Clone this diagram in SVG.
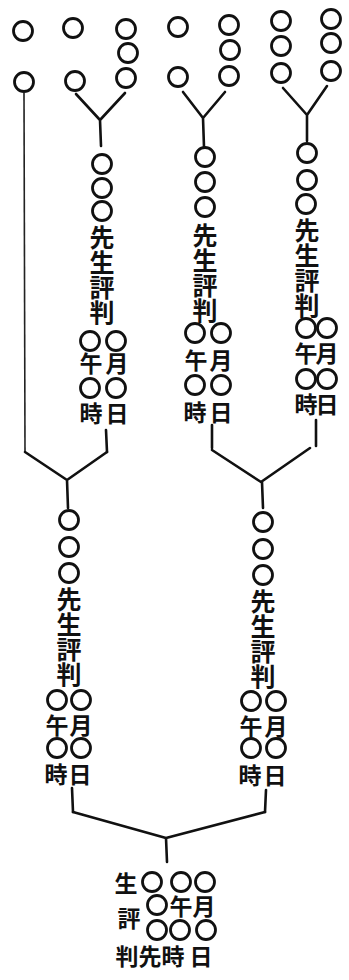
<svg xmlns="http://www.w3.org/2000/svg" width="349" height="980" viewBox="0 0 349 980">
<style>
.c{fill:none;stroke:#111;stroke-width:2.8}
.t{font-family:"Noto Sans CJK JP","Noto Sans CJK TC",sans-serif;font-weight:700;font-size:23px;text-anchor:middle;dominant-baseline:central;fill:#111}
.v{font-family:"Noto Sans CJK JP","Noto Sans CJK TC",sans-serif;font-weight:700;font-size:25px;writing-mode:vertical-rl;text-anchor:start;fill:#111}
.f{font-size:23px}
.ln{fill:none;stroke:#111;stroke-width:2.6;stroke-linecap:round;stroke-linejoin:round}
.th{fill:none;stroke:#222;stroke-width:1.6}
</style>
<rect width="349" height="980" fill="#fff"/>
<g id="connectors">
  <path class="th" d="M24 93 L25 452"/>
  <path class="ln" d="M76 94 L100 120 L125 93 M100 120 L101 146"/>
  <path class="ln" d="M183 92 L203 118 L225 92 M203 118 L204 147"/>
  <path class="ln" d="M283 88 L307 115 L327 86 M307 115 L307 141"/>
  <path class="ln" d="M106 430 L107 452"/>
  <path class="ln" d="M212 425 L212 448"/>
  <path class="ln" d="M316 420 L316 446"/>
  <path class="ln" d="M25 452 L67 480 L107 452 M67 480 L68 508"/>
  <path class="ln" d="M212 450 L261 482 L310 448 M262 482 L263 508"/>
  <path class="ln" d="M72 788 L73 812"/>
  <path class="ln" d="M266 790 L265 812"/>
  <path class="ln" d="M73 812 L166 838 L265 812 M166 838 L167 862"/>
</g>
<g id="leaf1a"><circle class="c" cx="23" cy="31" r="9.5"/></g>
<g id="leaf1b"><circle class="c" cx="24" cy="82" r="9.5"/></g>
<g id="leaf2a"><circle class="c" cx="73" cy="28" r="9.5"/></g>
<g id="leaf2b"><circle class="c" cx="75" cy="81" r="9.5"/></g>
<g id="leaf3"><circle class="c" cx="126" cy="29" r="9.5"/><circle class="c" cx="128" cy="53" r="9.5"/><circle class="c" cx="126" cy="78" r="9.5"/></g>
<g id="leaf4a"><circle class="c" cx="178" cy="27" r="9.5"/></g>
<g id="leaf4b"><circle class="c" cx="178" cy="77" r="9.5"/></g>
<g id="leaf5"><circle class="c" cx="229" cy="25" r="9.5"/><circle class="c" cx="230" cy="50" r="9.5"/><circle class="c" cx="229" cy="76" r="9.5"/></g>
<g id="leaf6"><circle class="c" cx="281" cy="21" r="9.5"/><circle class="c" cx="281" cy="46" r="9.5"/><circle class="c" cx="281" cy="73" r="9.5"/></g>
<g id="leaf7"><circle class="c" cx="331" cy="19" r="9.5"/><circle class="c" cx="331" cy="43" r="9.5"/><circle class="c" cx="331" cy="71" r="9.5"/></g>

<g id="colL">
  <circle class="c" cx="102" cy="164" r="9.5"/><circle class="c" cx="102" cy="188" r="9.5"/><circle class="c" cx="102" cy="211" r="9.5"/>
  <text class="v" x="102" y="225">先生評判</text>
  <circle class="c" cx="90" cy="341" r="9.5"/><circle class="c" cx="116" cy="341" r="9.5"/>
  <text class="t" x="91" y="362">午</text><text class="t" x="117" y="362">月</text>
  <circle class="c" cx="90" cy="388" r="9.5"/><circle class="c" cx="116" cy="388" r="9.5"/>
  <text class="t" x="91" y="412">時</text><text class="t" x="117" y="412">日</text>
</g>
<g id="colM">
  <circle class="c" cx="205" cy="157" r="9.5"/><circle class="c" cx="205" cy="182" r="9.5"/><circle class="c" cx="205" cy="207" r="9.5"/>
  <text class="v" x="205" y="223">先生評判</text>
  <circle class="c" cx="195" cy="333" r="9.5"/><circle class="c" cx="221" cy="333" r="9.5"/>
  <text class="t" x="196" y="359">午</text><text class="t" x="221" y="359">月</text>
  <circle class="c" cx="195" cy="385" r="9.5"/><circle class="c" cx="221" cy="385" r="9.5"/>
  <text class="t" x="195" y="411">時</text><text class="t" x="221" y="411">日</text>
</g>
<g id="colR">
  <circle class="c" cx="307" cy="153" r="9.5"/><circle class="c" cx="307" cy="180" r="9.5"/><circle class="c" cx="306" cy="204" r="9.5"/>
  <text class="v" x="307" y="218">先生評判</text>
  <circle class="c" cx="306" cy="328" r="9.5"/><circle class="c" cx="327" cy="328" r="9.5"/>
  <text class="t" x="306" y="352">午</text><text class="t" x="327" y="352">月</text>
  <circle class="c" cx="306" cy="379" r="9.5"/><circle class="c" cx="327" cy="379" r="9.5"/>
  <text class="t" x="306" y="403">時</text><text class="t" x="327" y="403">日</text>
</g>
<g id="colLL">
  <circle class="c" cx="69" cy="520" r="9.5"/><circle class="c" cx="69" cy="547" r="9.5"/><circle class="c" cx="69" cy="573" r="9.5"/>
  <text class="v" x="69" y="587">先生評判</text>
  <circle class="c" cx="57" cy="700" r="9.5"/><circle class="c" cx="81" cy="700" r="9.5"/>
  <text class="t" x="57" y="724">午</text><text class="t" x="81" y="724">月</text>
  <circle class="c" cx="57" cy="748" r="9.5"/><circle class="c" cx="81" cy="748" r="9.5"/>
  <text class="t" x="56" y="773">時</text><text class="t" x="80" y="773">日</text>
</g>
<g id="colLR">
  <circle class="c" cx="263" cy="522" r="9.5"/><circle class="c" cx="263" cy="549" r="9.5"/><circle class="c" cx="263" cy="575" r="9.5"/>
  <text class="v" x="263" y="589">先生評判</text>
  <circle class="c" cx="251" cy="701" r="9.5"/><circle class="c" cx="276" cy="701" r="9.5"/>
  <text class="t" x="251" y="725">午</text><text class="t" x="276" y="725">月</text>
  <circle class="c" cx="251" cy="748" r="9.5"/><circle class="c" cx="276" cy="748" r="9.5"/>
  <text class="t" x="250" y="774">時</text><text class="t" x="275" y="774">日</text>
</g>
<g id="final">
  <text class="t f" x="126" y="882">生</text>
  <circle class="c" cx="152" cy="882" r="9.5"/><circle class="c" cx="181" cy="882" r="9.5"/><circle class="c" cx="205" cy="882" r="9.5"/>
  <circle class="c" cx="157" cy="905" r="9.5"/>
  <text class="t f" x="181" y="905">午</text><text class="t f" x="204" y="905">月</text>
  <text class="t f" x="129" y="917">評</text>
  <circle class="c" cx="157" cy="930" r="9.5"/><circle class="c" cx="180" cy="930" r="9.5"/><circle class="c" cx="206" cy="930" r="9.5"/>
  <text class="t f" x="127" y="955">判</text><text class="t f" x="150" y="955">先</text><text class="t f" x="173" y="955">時</text><text class="t f" x="201" y="955">日</text>
</g>
</svg>
